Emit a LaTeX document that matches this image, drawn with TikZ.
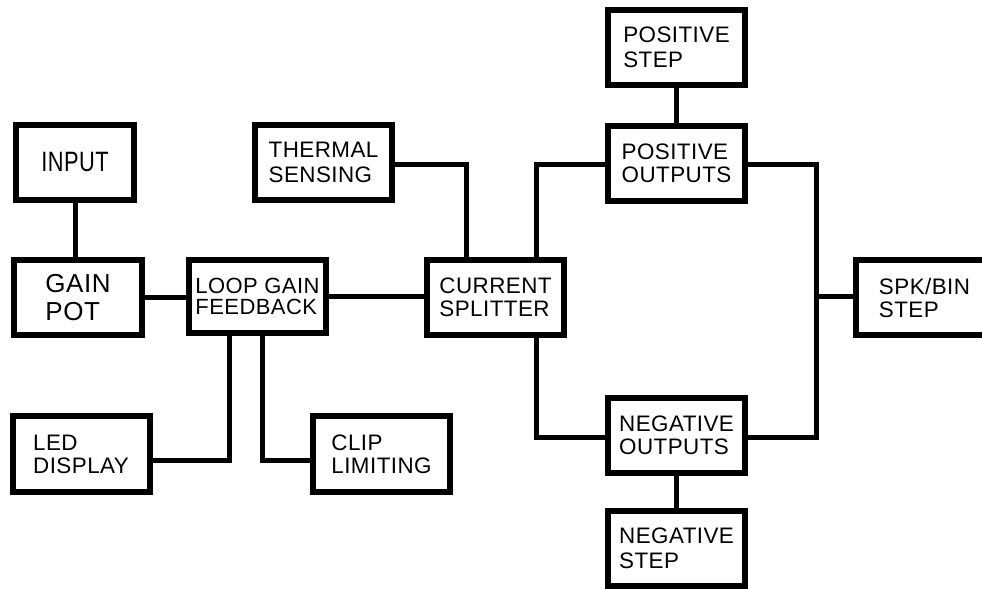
\documentclass[tikz,border=0pt]{standalone}
\usepackage{fontspec}
\setmainfont{Liberation Sans}[LetterSpace=2]
\usepackage{graphicx}
\begin{document}
\begin{tikzpicture}[x=0.75pt,y=-0.75pt,
  blk/.style={draw=black,fill=white,line width=4.5pt,minimum width=102.75pt,minimum height=56.25pt,
    inner sep=0pt,align=left,font=\fontsize{16.8pt}{17.25pt}\selectfont},
  wide/.style={font=\fontsize{16.8pt}{18.75pt}\selectfont},
  wire/.style={line width=3.75pt,line join=miter}]
\useasboundingbox (0,0) rectangle (982,589);
\fill[white] (0,0) rectangle (982,589);
\coordinate (ta) at (466,0);
\coordinate (sa) at (536,0);
\coordinate (bus) at (816,0);
\coordinate (la) at (229,0);
\coordinate (ca) at (262,0);
\coordinate (lv) at (0,460);
% boxes
\node[blk,minimum width=88.5pt,font=\fontsize{21pt}{24pt}\selectfont] (input) at (75,162.5) {\scalebox{0.78}[1]{INPUT}};
\node[blk,minimum width=96pt,font=\fontsize{19.5pt}{21pt}\selectfont] (gain) at (78,297.5) {GAIN\\POT};
\node[blk,minimum height=54.75pt,font=\fontsize{16.5pt}{15.75pt}\selectfont] (loop) at (257.5,296.5) {LOOP GAIN\\FEEDBACK};
\node[blk,wide] (thermal) at (323.5,162.5) {THERMAL\\SENSING};
\node[blk] (split) at (495.5,297) {CURRENT\\SPLITTER};
\node[blk,wide] (posstep) at (676.5,47.5) {POSITIVE\\STEP};
\node[blk] (posout) at (676.5,163.5) {POSITIVE\\OUTPUTS};
\node[blk] (spk) at (924.5,297.5) {SPK/BIN\\STEP};
\node[blk] (negout) at (676.5,435.5) {NEGATIVE\\OUTPUTS};
\node[blk,wide] (negstep) at (676.5,548.5) {NEGATIVE\\STEP};
\node[blk,minimum height=57pt] (led) at (81,454) {LED\\DISPLAY};
\node[blk,minimum height=57pt] (clip) at (381.5,454) {CLIP\\LIMITING};
% wires
\draw[wire] (input.south) -- (input.south |- gain.north);
\draw[wire] (gain.east |- 0,297) -- (loop.west |- 0,297);
\draw[wire] (loop.east |- 0,296) -- (split.west |- 0,296);
\draw[wire] (thermal.east |- 0,164) -| (ta |- split.north);
\draw[wire] (sa |- split.north) |- (posout.west |- 0,164);
\draw[wire] (sa |- split.south) |- (negout.west |- 0,437);
\draw[wire] (posout.east |- 0,164) -| (bus |- 0,437) -- (negout.east |- 0,437);
\draw[wire] (bus |- 0,296) -- (spk.west |- 0,296);
\draw[wire] (posstep.south) -- (posout.north);
\draw[wire] (negout.south) -- (negstep.north);
\draw[wire] (la |- loop.south) |- (led.east |- lv);
\draw[wire] (ca |- loop.south) |- (clip.west |- lv);
\end{tikzpicture}
\end{document}
